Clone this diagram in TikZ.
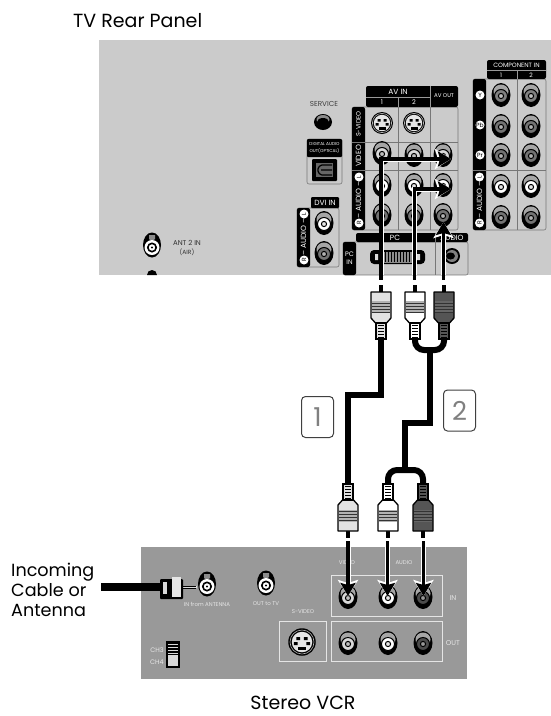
\documentclass[tikz,border=0pt]{standalone}
\usepackage{fontspec}
\setmainfont{Poppins}
\usetikzlibrary{arrows.meta}
\definecolor{tvgray}{HTML}{CBCBCB}
\definecolor{vcrgray}{HTML}{999999}
\definecolor{linegray}{HTML}{777777}
\definecolor{plugdark}{HTML}{555555}
\definecolor{pluglight}{HTML}{E2E2E2}
\tikzset{
  title/.style={font=\fontsize{19}{22}\selectfont,inner sep=0},
  onblack/.style={text=white,font=\fontsize{7.5}{8}\selectfont,inner sep=0,align=center},
  onblackside/.style={onblack,rotate=90},
  ongray/.style={text=#1,font=\fontsize{5.5}{6}\selectfont,inner sep=0,align=center},
  bullet/.style={circle,fill=white,text=black,inner sep=0,minimum size=9pt,font=\fontsize{6}{6}\selectfont},
  frameline/.style={draw=linegray,line width=0.6pt,rounded corners=2pt},
  vcrframe/.style={draw=white!90!black,line width=1pt},
  cableline/.style={line width=6pt,black},
  numberbox/.style={draw=black!75,line width=1pt,rounded corners=4pt,fill=white,minimum width=32pt,minimum height=41pt,text=black!50,inner sep=0,font=\fontsize{26}{26}\selectfont}
}
\newcommand{\rcajack}[4]{
\begin{scope}[shift={(#1,#2)}]
\fill[black] (0,0) ellipse [x radius=9.5,y radius=12];
\fill[black!35] (0,-3.5) ellipse [x radius=7.5,y radius=7];
\draw[black,fill=#3,line width=1pt] (0,1) circle (6.5);
\draw[black,fill=#4,line width=1pt] (0,1) circle (2.6);
\end{scope}}
\newcommand{\antjack}[3]{
\begin{scope}[shift={(#1,#2)}]
\fill[black] (0,0) ellipse [x radius=9,y radius=12.5];
\fill[black!45] (-3,-10)--(3,-10)--(3,-6)--(0,-3.5)--(-3,-6)--cycle;
\fill[#3] (0,2.5) circle (7.5);
\draw[black,line width=1.6pt] (0,2.5) circle (4.2);
\fill[black] (0,2.5) circle (1.2);
\end{scope}}
\newcommand{\svideojack}[3]{
\begin{scope}[shift={(#1,#2)},scale=#3]
\fill[black] (0,0) circle (11);
\draw[white!70!black,line width=0.6pt] (0,0) circle (9.6);
\fill[white!90!black] (0,0) circle (8.2);
\fill[black] (-4.5,-4) rectangle (-1.5,-1.5) (1.5,-4) rectangle (4.5,-1.5);
\fill[black] (-6.5,0) rectangle (-3.5,2.5) (3.5,0) rectangle (6.5,2.5);
\fill[black] (-3.5,4) rectangle (3.5,6.5);
\end{scope}}
\newcommand{\rcaplug}[5]{
\begin{scope}[shift={(#1,#2)},yscale=#3]
\fill[black] (-1.7,-7) rectangle (1.7,0);
\draw[black,line width=1.3pt,fill=#4,line join=round] (-10,0)--(10,0)--(10,26)--(5.5,31)--(-5.5,31)--(-10,26)--cycle;
\fill[#5] (-9.4,9) rectangle (9.4,21);
\foreach \s in {11,14,17,20} {\draw[black!80,line width=0.7pt] (-9.4,\s)--(9.4,\s);}
\draw[black,line width=1.3pt,fill=#4] (-5,31) rectangle (5,47);
\foreach \s in {33,36,39,42,45} {\draw[black,line width=0.8pt] (-3,\s)--(3,\s);}
\end{scope}}
\newcommand{\haloarrow}[1]{
\draw[white,line width=5pt,-{Stealth[length=16pt,width=20pt,inset=3pt]}] #1;
\draw[black,line width=3.8pt,-{Stealth[length=13pt,width=15pt,inset=2pt]}] #1;}
\begin{document}
\begin{tikzpicture}[x=1pt,y=-1pt]
\useasboundingbox (0,0) rectangle (551,716);
\fill[white] (0,0) rectangle (551,716);
\node[title,anchor=west] (tvtitle) at (73,21) {TV Rear Panel};
\node[title] (vcrtitle) at (303,703) {Stereo VCR};
\node[title,anchor=west,align=left,font=\fontsize{17.6}{20}\selectfont] (incoming) at (11,590) {Incoming\\Cable or\\Antenna};
\fill[tvgray] (99,40) rectangle (551,275);
\fill[vcrgray] (141,547) rectangle (467,679);

\draw[frameline] (352,107) rectangle (458,230);
\fill[black,rounded corners=2pt] (366,86) rectangle (458,107);
\fill[black,rounded corners=2pt] (352,107) rectangle (365,230);
\draw[linegray] (398,107)--(398,230) (430,107)--(430,230) (352,142)--(458,142) (352,170)--(458,170);
\draw[white!60!black] (366,97)--(430,97) (398,97)--(398,107) (430,86)--(430,107);
\node[onblack] (avin) at (398,91.5) {AV IN};
\node[onblack,font=\fontsize{6.5}{7}\selectfont] (avone) at (382,102) {1};
\node[onblack,font=\fontsize{6.5}{7}\selectfont] (avtwo) at (414,102) {2};
\node[onblack,font=\fontsize{5.5}{6}\selectfont] (avout) at (444,96) {AV OUT};
\node[onblackside,font=\fontsize{6.3}{7}\selectfont] (avsvideo) at (358.5,124) {S-VIDEO};
\node[onblackside] (avvideo) at (358.5,156) {VIDEO};
\node[onblackside] (avaudio) at (358.5,200) {– AUDIO –};
\node[bullet,rotate=90] (avl) at (359,177) {L};
\node[bullet,rotate=90] (avr) at (359,223) {R};
\svideojack{382}{123}{1}
\svideojack{414}{123}{1}
\foreach \x/\y in {382/153,414/155,443/155} {\rcajack{\x}{\y}{black!15}{black!25}}
\foreach \x in {382,414,443} {\rcajack{\x}{185}{white}{black!10}}
\foreach \x in {382,414,443} {\rcajack{\x}{215}{black!55}{black!30}}

\draw[frameline] (473,79) rectangle (546,230);
\fill[black,rounded corners=2pt] (487,60) rectangle (546,79);
\fill[black,rounded corners=2pt] (473,79) rectangle (486,230);
\draw[linegray] (517,79)--(517,230) (473,170)--(546,170);
\draw[white!60!black] (487,70)--(546,70) (517,70)--(517,79);
\node[onblack,font=\fontsize{6.2}{7}\selectfont] (comptitle) at (516.5,65) {COMPONENT IN};
\node[onblack,font=\fontsize{6}{7}\selectfont] (compone) at (501,75) {1};
\node[onblack,font=\fontsize{6}{7}\selectfont] (comptwo) at (531,75) {2};
\node[bullet] (compy) at (480,95) {Y};
\node[bullet] (comppb) at (480,125) {Pb};
\node[bullet] (comppr) at (480,155) {Pr};
\node[onblackside] (compaudio) at (479.5,200) {– AUDIO –};
\node[bullet,rotate=90] (compl) at (479.5,177) {L};
\node[bullet,rotate=90] (compr) at (479.5,223) {R};
\foreach \x in {501,531} {
\rcajack{\x}{95}{black!50}{black!25}
\rcajack{\x}{126}{black!55}{black!30}
\rcajack{\x}{155}{black!55}{black!30}
\rcajack{\x}{186}{white}{black!10}
\rcajack{\x}{217}{black!55}{black!30}}

\node[ongray=black!75,font=\fontsize{7.2}{8}\selectfont] (service) at (324,104) {SERVICE};
\fill[black] (323,122) ellipse [x radius=9,y radius=8];
\fill[black!45] (323,119.5) ellipse [x radius=6.5,y radius=4.5];
\fill[black] (323,122) ellipse [x radius=6,y radius=4];
\draw[frameline] (307,139) rectangle (342,184);
\fill[black,rounded corners=1pt] (307,139) rectangle (342,157);
\node[onblack,font=\fontsize{4.3}{6.5}\selectfont] (optical) at (324.5,148) {DIGITAL AUDIO\\OUT(OPTICAL)};
\fill[black,rounded corners=1pt] (312,159) rectangle (337,181);
\fill[black!60] (316,163) rectangle (333,177);
\draw[black,line width=1.2pt,rounded corners=1pt] (332,165)--(321,165)--(318,168)--(318,172)--(321,175)--(332,175) (321,170)--(332,170);

\draw[frameline] (297,208) rectangle (339,267);
\fill[black,rounded corners=1pt] (311,197) rectangle (339,208);
\fill[black,rounded corners=2pt] (297,208) rectangle (310,267);
\node[onblack] (dviin) at (325,202.5) {DVI IN};
\node[onblackside] (dviaudio) at (303.5,237) {– AUDIO –};
\node[bullet,rotate=90] (dvil) at (304,214) {L};
\node[bullet,rotate=90] (dvir) at (304,260) {R};
\rcajack{324}{223}{white}{black!10}
\rcajack{324}{253}{black!55}{black!30}

\draw[frameline] (343,242) rectangle (468,275);
\fill[black,rounded corners=2pt] (356,233) rectangle (468,242);
\fill[black,rounded corners=2pt] (343,242) rectangle (356,275);
\draw[linegray] (435,233)--(435,275);
\node[onblack] (pctitle) at (395,237.5) {PC};
\node[onblack] (audiotitle) at (452,237.5) {AUDIO};
\node[onblack,font=\fontsize{6.5}{7.5}\selectfont] (pcin) at (349.5,258) {PC\\IN};
\fill[black,rounded corners=4pt] (370,250) rectangle (425,264);
\fill[black!45] (383,251.5) rectangle (412,262.5);
\foreach \s in {385,388,...,410} {\draw[black,line width=0.8pt] (\s,252)--(\s,262);}
\fill[white!85!black] (375,254) rectangle (378,260) (417,254) rectangle (420,260);
\fill[black] (452,256) circle (8);
\fill[black!50] (452,256) circle (6);
\fill[black] (450.5,256) ellipse [x radius=4.5,y radius=3.5];

\antjack{152}{245}{white}
\fill[black] (147,275) arc (180:360:5) -- cycle;
\node[ongray=black!80,font=\fontsize{7}{8}\selectfont] (anttwo) at (187,243) {ANT 2 IN};
\node[ongray=black!80,font=\fontsize{6}{7}\selectfont] (antair) at (187,252) {(AIR)};

\draw[vcrframe] (331,575) rectangle (442,616);
\draw[vcrframe] (331,621) rectangle (442,661);
\draw[vcrframe] (279,621) rectangle (326,661);
\node[ongray=white!90!black] (vcrvideo) at (347,563) {VIDEO};
\node[ongray=white!90!black] (vcraudio) at (404,563) {AUDIO};
\node[ongray=white!90!black,font=\fontsize{7}{8}\selectfont] (vcrin) at (453,598) {IN};
\node[ongray=white!90!black,font=\fontsize{7}{8}\selectfont] (vcrout) at (453,643) {OUT};
\node[ongray=white!90!black] (vcrsvideo) at (303,612) {S-VIDEO};
\node[ongray=white!90!black] (fromant) at (207,604) {IN from ANTENNA};
\node[ongray=white!90!black] (outtv) at (266,604) {OUT to TV};
\node[ongray=white!90!black,font=\fontsize{6.5}{7}\selectfont] (chthree) at (157,650) {CH3};
\node[ongray=white!90!black,font=\fontsize{6.5}{7}\selectfont] (chfour) at (157,662) {CH4};
\svideojack{302}{642}{1.25}
\rcajack{348}{597}{black!15}{black!25}
\rcajack{388}{597}{white}{black!10}
\rcajack{423}{597}{black!70}{black!40}
\rcajack{348}{643}{black!15}{black!25}
\rcajack{388}{643}{white}{black!10}
\rcajack{423}{643}{black!70}{black!40}
\antjack{207}{584}{white}
\antjack{266}{583}{white}
\fill[black] (166,641) rectangle (180,668);
\fill[white!85!black] (168,655) rectangle (178,666);
\foreach \s in {644,647,650,653} {\draw[white!85!black,line width=1pt] (168,\s)--(178,\s);}

\coordinate (coaxfree) at (101,587);
\coordinate (coaxnut) at (160,587);
\coordinate (coaxpin) at (183,587);
\coordinate (coaxjack) at (197,587);
\draw[black,line width=8pt] (coaxfree)--(coaxnut);
\draw[white!85!black,line width=1.5pt] (coaxpin)--(coaxjack);
\draw[black,line width=0.3pt] (183,586)--(196,586) (183,588)--(196,588);
\fill[black,rounded corners=1pt] (160,579) rectangle (183,599);
\fill[white!85!black] (163,582) rectangle (167,594);
\fill[black!10] (172,577) rectangle (181,597);

\coordinate (topvideo) at (381,280);
\coordinate (topleft) at (414.5,280);
\coordinate (topright) at (443.5,280);
\coordinate (videocorner) at (381,159);
\coordinate (leftcorner) at (414.5,189);
\coordinate (videotip) at (451,159);
\coordinate (lefttip) at (451,189);
\coordinate (righttip) at (443.5,222);
\haloarrow{(381,275)--(videocorner)--(videotip)}
\haloarrow{(414.5,275)--(leftcorner)--(lefttip)}
\haloarrow{(443.5,275)--(righttip)}
\draw[black,line width=3.8pt] (381,275)--(topvideo);
\draw[black,line width=3.8pt] (414.5,275)--(topleft);
\draw[black,line width=3.8pt] (443.5,275)--(topright);

\coordinate (vcrvideotop) at (348,541);
\coordinate (vcrlefttop) at (387.5,541);
\coordinate (vcrrighttop) at (423.5,541);
\coordinate (vcrvideotip) at (348,596);
\coordinate (vcrlefttip) at (387.5,596);
\coordinate (vcrrighttip) at (423.5,596);
\draw[black,line width=3.8pt] (vcrvideotop)--(348,548);
\draw[black,line width=3.8pt] (vcrlefttop)--(387.5,548);
\draw[black,line width=3.8pt] (vcrrighttop)--(423.5,548);
\haloarrow{(348,547)--(vcrvideotip)}
\haloarrow{(387.5,547)--(vcrlefttip)}
\haloarrow{(423.5,547)--(vcrrighttip)}

\coordinate (cableonetop) at (381,338);
\coordinate (cableonebot) at (348,484);
\draw[cableline] (cableonetop)--(381,395)--(348,395)--(cableonebot);
\coordinate (yleft) at (415,338);
\coordinate (yright) at (444,338);
\coordinate (ytop) at (430,350);
\coordinate (ybot) at (405,470);
\coordinate (ybotleft) at (388,484);
\coordinate (ybotright) at (423,484);
\draw[cableline,rounded corners=9pt] (yleft)--(415,350)--(444,350)--(yright);
\draw[cableline] (ytop)--(430,423)--(405,423)--(ybot);
\draw[cableline,rounded corners=9pt] (ybotleft)--(388,470)--(423,470)--(ybotright);

\rcaplug{381}{292}{1}{pluglight}{black!30}
\rcaplug{415}{292}{1}{white}{black!30}
\rcaplug{444}{292}{1}{plugdark}{black!60}
\rcaplug{348}{531}{-1}{pluglight}{black!30}
\rcaplug{388}{531}{-1}{white}{black!30}
\rcaplug{423}{531}{-1}{plugdark}{black!60}

\node[numberbox] (numone) at (317.5,417) {1};
\node[numberbox] (numtwo) at (459.5,410.5) {2};
\end{tikzpicture}
\end{document}
